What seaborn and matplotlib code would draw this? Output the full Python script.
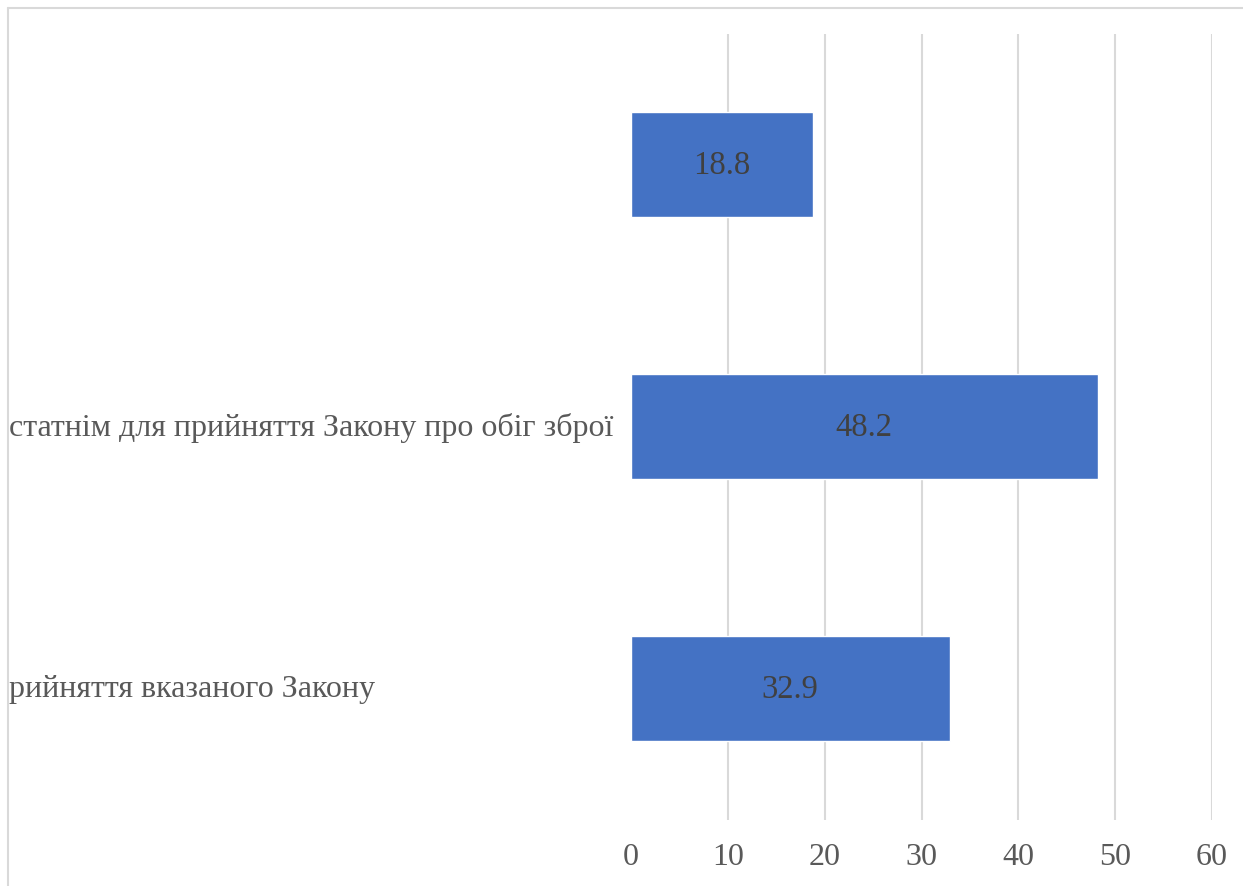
import matplotlib
matplotlib.use("Agg")
import matplotlib.pyplot as plt
import seaborn as sns
import pandas as pd
from matplotlib.transforms import blended_transform_factory
from matplotlib.lines import Line2D

# ---- data ----
categories = ["", "статнім для прийняття Закону про обіг зброї", "рийняття вказаного Закону"]
values = [18.8, 48.2, 32.9]
x_ticks = [0, 10, 20, 30, 40, 50, 60]

sns.set_theme(style="white")
plt.rcParams["font.family"] = ["Liberation Serif", "DejaVu Serif"]

W, H = 1243, 887
fig = plt.figure(figsize=(W / 100, H / 100), dpi=100)
ax = fig.add_axes([631 / W, 1 - 821 / H, (1212 - 631) / W, (821 - 34.5) / H])

df = pd.DataFrame({"cat": categories, "val": values})
sns.barplot(data=df, x="val", y="cat", orient="h", color="#4472C4",
            saturation=1, width=0.4, ax=ax)

ax.set_xlim(x_ticks[0], x_ticks[-1])
ax.set_xticks(x_ticks)
ax.set_xticklabels([str(t) for t in x_ticks])
ax.tick_params(axis="x", length=0, pad=16, labelsize=23, labelcolor="#595959")
ax.tick_params(axis="y", length=0)
ax.set_yticklabels([])
ax.set_xlabel("")
ax.set_ylabel("")
for s in ax.spines.values():
    s.set_visible(False)

ax.xaxis.grid(True, color="#d9d9d9", linewidth=1.5)
ax.set_axisbelow(True)
ax.get_xgridlines()[0].set_visible(False)

for cont in ax.containers:
    ax.bar_label(cont, fmt="%.1f", label_type="center", fontsize=23.5, color="#404040")

# category labels, starting at the chart frame on the left
trans = blended_transform_factory(fig.transFigure, ax.transData)
for i, lab in enumerate(categories):
    if not lab:
        continue
    ax.text(9 / W, i, lab, transform=trans, ha="left", va="center",
            fontsize=23, color="#595959")

# chart-area frame (left and top edges visible)
fig.add_artist(Line2D([8 / W, 8 / W], [0, 1 - 9 / H], transform=fig.transFigure,
                      color="#d9d9d9", linewidth=1.5))
fig.add_artist(Line2D([8 / W, 1], [1 - 9 / H, 1 - 9 / H], transform=fig.transFigure,
                      color="#d9d9d9", linewidth=1.5))

fig.savefig("out.png", dpi=100)
